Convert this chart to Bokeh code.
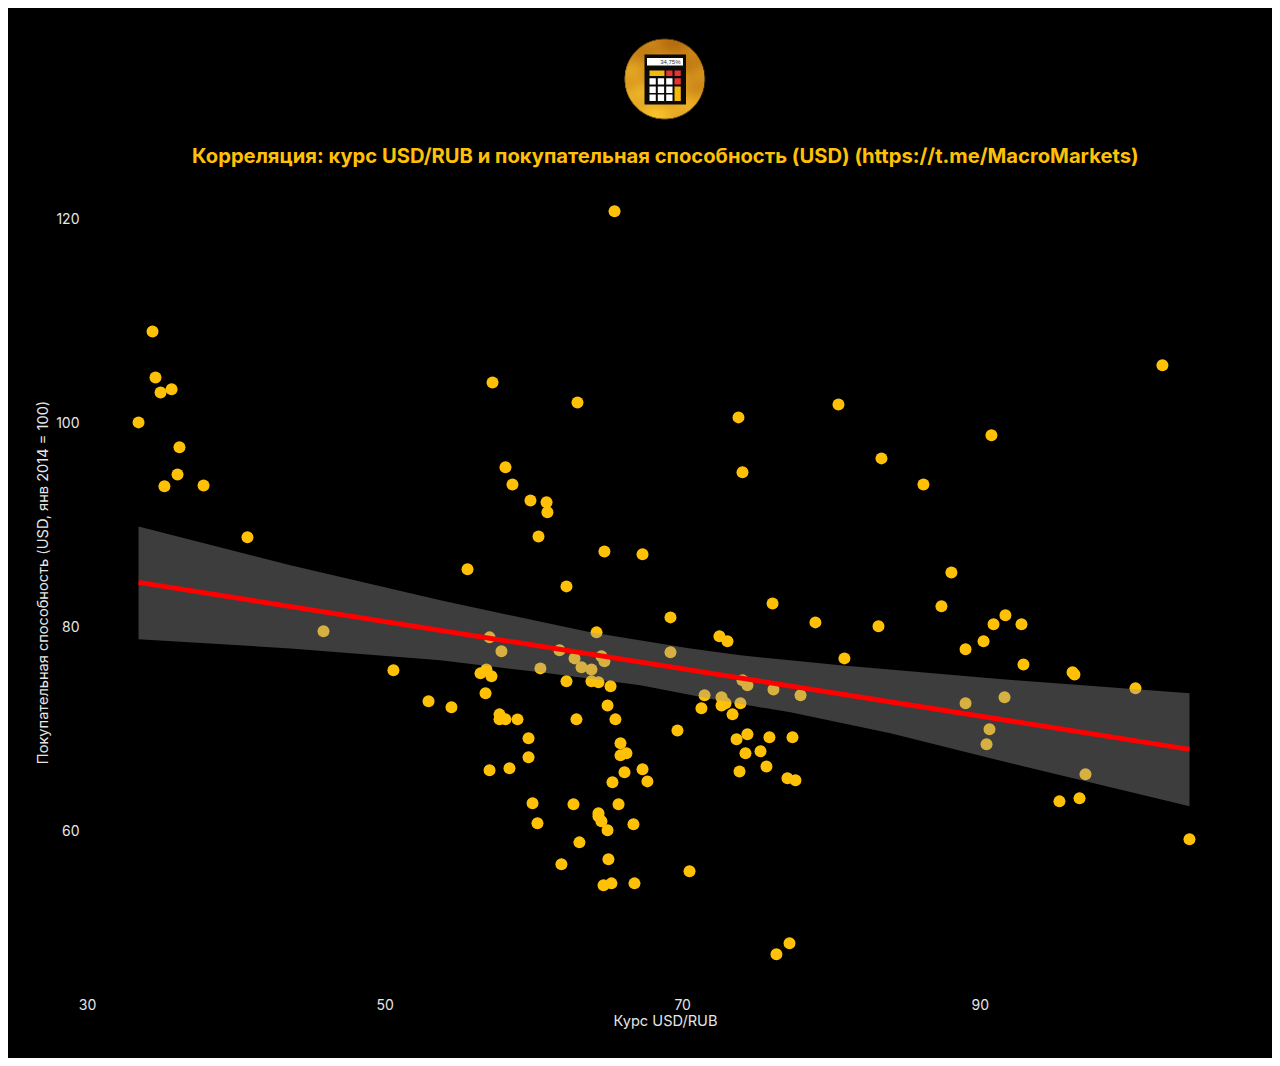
import numpy as np
from bokeh.plotting import figure
from bokeh.layouts import column
from bokeh.models import FixedTicker, Title, ColumnDataSource
from bokeh.core.properties import value
from bokeh.embed import file_html
from bokeh.resources import INLINE

# ---------- data ----------
usd_rub = [33.43,34.37,34.57,34.91,35.65,36.18,36.05,35.17,37.80,40.75,45.86,50.56,52.92,54.46,55.54,57.22,58.09,58.56,59.77,60.85,
           60.91,60.31,64.74,67.30,62.19,62.93,65.42,69.18,64.21,57.02,57.82,60.44,61.72,62.73,63.20,63.87,64.54,64.74,62.19,56.41,
           56.81,57.15,56.75,57.69,57.69,58.09,58.90,62.86,63.87,64.34,65.15,64.95,65.48,65.82,65.82,66.22,66.09,67.30,67.63,65.28,
           59.64,59.64,57.02,58.36,59.91,60.24,62.66,64.34,64.34,64.54,65.69,64.95,66.69,63.06,61.85,65.01,64.68,65.21,66.76,70.46,
           76.30,77.18,69.65,69.18,72.47,73.01,71.47,71.26,72.61,72.61,72.88,73.88,73.35,74.02,74.35,76.10,77.92,73.62,74.35,75.83,
           77.38,74.22,75.23,75.63,73.82,77.04,77.58,76.04,78.92,83.16,80.87,87.39,89.01,90.22,90.89,89.01,90.62,90.42,91.63,91.69,
           92.77,92.90,96.20,96.33,97.07,95.32,96.67,100.43,104.06,102.24,90.75,86.18,88.06,80.47,83.36,73.75,74.02]
purchasing = [100.00,108.92,104.41,102.94,103.24,97.55,94.90,93.73,93.82,88.73,79.51,75.69,72.65,72.06,85.59,103.92,95.59,93.92,92.35,92.16,
              91.18,88.82,87.35,87.06,83.92,101.96,120.69,80.88,79.41,78.92,77.55,75.88,77.65,76.86,75.98,75.78,77.06,76.57,74.61,75.39,
              75.78,75.10,73.43,71.37,70.88,70.88,70.88,70.88,74.61,74.51,74.12,72.25,70.88,68.53,67.35,67.55,65.69,65.98,64.80,64.71,
              69.02,67.16,65.88,66.08,62.65,60.69,62.55,61.67,61.37,60.88,62.55,60.00,60.59,58.82,56.67,57.16,54.61,54.80,54.80,55.98,
              47.84,48.92,69.80,77.45,79.02,78.53,73.24,71.96,73.04,72.25,72.45,72.45,71.37,74.71,74.22,73.82,73.24,68.92,69.41,69.12,
              69.12,67.55,67.75,66.27,65.78,65.10,64.90,82.25,80.39,80.00,76.86,81.96,77.75,78.53,80.20,72.45,69.90,68.43,73.04,81.08,
              80.20,76.27,75.49,75.29,65.49,62.84,63.14,73.92,59.12,105.59,98.73,93.92,85.29,101.76,96.47,100.49,95.10]

fit_x = [33.43, 104.06]
fit_y = [84.31, 67.94]
band_upper_x = [33.43,43.64,53.72,63.80,70.52,73.88,80.60,90.69,104.06]
band_upper_y = [89.80,85.98,82.55,79.41,77.84,77.16,76.18,74.90,73.43]
band_lower_x = [33.43,43.64,53.72,60.44,67.16,71.67,77.24,83.96,90.69,104.06]
band_lower_y = [78.73,77.84,76.67,75.49,74.22,72.94,71.57,69.51,67.06,62.35]

x_ticks = [30, 50, 70, 90]
y_ticks = [60, 80, 100, 120]
title_text = "Корреляция: курс USD/RUB и покупательная способность (USD) (https://t.me/MacroMarkets)"
x_label = "Курс USD/RUB"
y_label = "Покупательная способность (USD, янв 2014 = 100)"

FONT = "Inter"
GOLD = "#ffc107"

# ---------- logo strip (range is in page pixels, frame 87..1243) ----------
logo = figure(width=1264, height=125, x_range=(87, 1243), y_range=(133, 8),
              output_backend="svg", toolbar_location=None,
              background_fill_color=None, border_fill_color=None,
              min_border_left=79, min_border_right=29, min_border_top=0, min_border_bottom=0,
              outline_line_color=None, x_axis_location=None, y_axis_location=None)
logo.grid.visible = False

n = 160
gy, gx = np.mgrid[0:n, 0:n]
u = (gx + .5) / n * 2 - 1
v = (gy + .5) / n * 2 - 1
r = np.hypot(u, v)
shade = np.clip(0.62 + 0.38 * (v * 0.75 - u * 0.25) + 0.10 * np.sin(5 * u + 3 * v) * np.cos(7 * v - 2 * u), 0, 1)
img = np.zeros((n, n, 4), dtype=np.uint8)
img[..., 0] = (160 + 90 * shade).astype(np.uint8)
img[..., 1] = (80 + 115 * shade).astype(np.uint8)
img[..., 2] = (5 + 40 * shade).astype(np.uint8)
img[..., 3] = (np.clip((1 - r) * n / 2, 0, 1) * 255).astype(np.uint8)
rgba = img.view(dtype=np.uint32).reshape((n, n))
logo.image_rgba(image=[rgba], x=623.7, y=38, dw=81, dh=81)

def box(x0, x1, y0, y1, c):
    logo.quad(left=x0, right=x1, top=y0, bottom=y1, fill_color=c, line_color=None)

box(644, 685.5, 54, 104, "#0a0a0a")
box(646.5, 682.5, 57.5, 65, "#ffffff")
logo.text(x=[680], y=[61.5], text=["34,75%"], text_color="#333333", text_font_size="6px",
          text_align="right", text_baseline="middle", text_font=value("Liberation Sans"))
box(649, 664, 70, 75.5, "#f5b80c")
box(665.7, 672, 70, 75.5, "#e8332e")
box(674, 680.3, 70, 75.5, "#e8332e")
box(674, 680.3, 77.7, 84, "#e8332e")
box(674, 680.3, 86, 100.5, "#f5b80c")
for xx in (649, 657.3, 665.7):
    for yy in (77.7, 86, 94):
        box(xx, xx + 6.3, yy, yy + 6.4, "#ffffff")

# ---------- main plot ----------
p = figure(width=1264, height=925, x_range=(30, 107.69), y_range=(44.1, 124.5),
           output_backend="svg", toolbar_location=None,
           background_fill_color=None, border_fill_color=None,
           outline_line_color=None,
           min_border_left=79, min_border_right=29, min_border_top=39, min_border_bottom=66)
p.grid.visible = False

p.title = Title(text=title_text, align="center", text_color=GOLD, text_font=FONT,
                text_font_size="20.2px", text_font_style="bold", standoff=10)

src = ColumnDataSource(dict(x=usd_rub, y=purchasing))
p.scatter("x", "y", source=src, size=12, fill_color=GOLD, line_color=None)
p.patch(band_upper_x + band_lower_x[::-1], band_upper_y + band_lower_y[::-1],
        fill_color="#999999", fill_alpha=0.4, line_color=None)
p.line(fit_x, fit_y, line_color="#ff0000", line_width=5)

for ax, ticks, lab in ((p.xaxis[0], x_ticks, x_label), (p.yaxis[0], y_ticks, y_label)):
    ax.ticker = FixedTicker(ticks=ticks)
    ax.axis_label = lab
    ax.axis_line_color = None
    ax.major_tick_line_color = None
    ax.minor_tick_line_color = None
    ax.major_tick_in = 0
    ax.major_tick_out = 0
    ax.major_label_text_color = "#e6e6e6"
    ax.major_label_text_font = FONT
    ax.major_label_text_font_size = "14px"
    ax.axis_label_text_color = "#e6e6e6"
    ax.axis_label_text_font = FONT
    ax.axis_label_text_font_size = "14.6px"
    ax.axis_label_text_font_style = "normal"
p.xaxis[0].major_label_standoff = 6
p.xaxis[0].axis_label_standoff = -1
p.yaxis[0].major_label_standoff = 8
p.yaxis[0].axis_label_standoff = 1

layout = column(logo, p, spacing=0, margin=(8, 8, 8, 8), styles={"background-color": "black"})
open("out.html", "w").write(file_html(layout, INLINE))
